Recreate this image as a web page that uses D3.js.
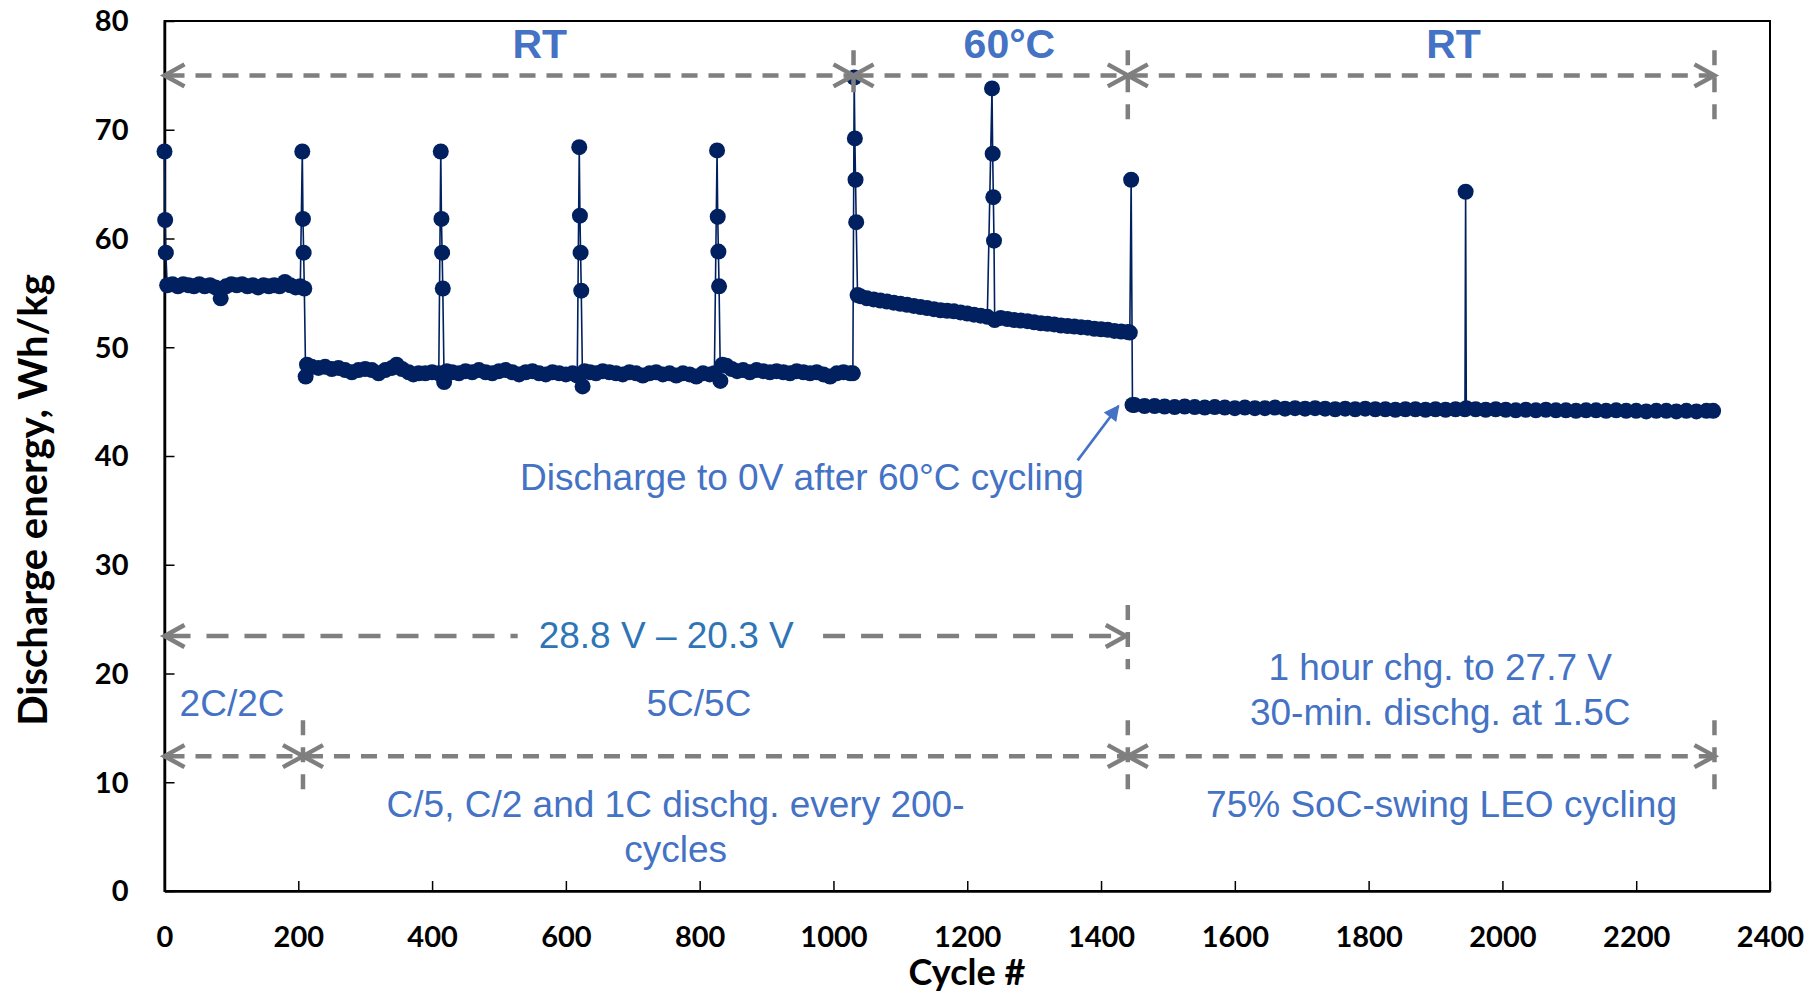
<!DOCTYPE html>
<html>
<head>
<meta charset="utf-8">
<script src="https://cdn.jsdelivr.net/npm/d3@7/dist/d3.min.js"></script>
<style>
    body { margin: 0; background: #fff; }
    .axis text { font-family: Lato, "Open Sans", sans-serif; font-weight: 700; font-size: 29px; fill: #000; }
    .axis path, .axis line { stroke: #000; }
    .axis-title { font-family: Lato, "Open Sans", sans-serif; font-weight: 700; fill: #000; }
    .note { font-family: "Liberation Sans", Arial, sans-serif; font-size: 37px; fill: #4472C4; }
    .phase { font-family: "Liberation Sans", Arial, sans-serif; font-weight: 700; font-size: 41px; fill: #4472C4; }
</style>
</head>
<body>
<div id="chart"></div>
<script>
// ---- data: [cycle, discharge energy Wh/kg] ----
const seg2C = [[0,68.0],[1,61.7],[2,58.7],[4,55.7],[12,55.8],[20,55.6],[28,55.8],[36,55.7],[44,55.6],
    [52,55.8],[60,55.6],[68,55.7],[76,55.5],[84,54.5],[92,55.6],[100,55.8],[108,55.7],[116,55.8],
    [124,55.6],[132,55.7],[140,55.5],[148,55.7],[156,55.6],[164,55.7],[172,55.6],[180,56.0],
    [188,55.7],[196,55.5],[203,55.6]];

const seg5C = [[206,68.0],[207,61.8],[208,58.7],[209,55.4],[211,47.3],[213,48.4],[220,48.2],[230,48.1],
    [240,48.2],[250,48.0],[260,48.1],[270,47.9],[280,47.7],[290,47.9],[300,48.0],[310,47.9],[320,47.6],
    [330,47.9],[340,48.1],[347,48.4],[355,48.0],[365,47.7],[372,47.5],[380,47.6],[390,47.6],[400,47.7],
    [410,47.6],[413,68.0],[414,61.8],[415,58.7],[416,55.4],[418,46.8],[422,47.8],[430,47.7],[440,47.6],
    [450,47.8],[460,47.7],[470,47.9],[480,47.7],[490,47.6],[500,47.8],[510,47.9],[520,47.7],[530,47.5],
    [540,47.7],[550,47.8],[560,47.6],[570,47.5],[580,47.7],[590,47.6],[600,47.5],[610,47.6],[617,47.4],
    [620,68.4],[621,62.1],[622,58.7],[623,55.2],[625,46.4],[628,47.8],[636,47.7],[645,47.6],[655,47.8],
    [665,47.7],[675,47.6],[685,47.5],[695,47.7],[705,47.6],[715,47.4],[725,47.6],[735,47.7],[745,47.5],
    [755,47.6],[765,47.4],[775,47.6],[785,47.5],[795,47.3],[805,47.6],[815,47.5],[822,47.6],
    [826,68.1],[827,62.0],[828,58.8],[829,55.6],[831,46.9],[834,48.4],[840,48.3],[848,48.0],[856,47.8],
    [865,47.9],[875,47.7],[885,47.9],[895,47.8],[905,47.7],[915,47.8],[925,47.7],[935,47.6],[945,47.8],
    [955,47.7],[965,47.6],[975,47.7],[985,47.5],[995,47.3],[1005,47.6],[1015,47.7],[1025,47.6],[1029,47.6]];

const seg60C = [[1031,74.8],[1032,69.2],[1033,65.4],[1034,61.5],[1036,54.8],[1040,54.7],[1050,54.5],
    [1060,54.4],[1070,54.3],[1080,54.2],[1090,54.1],[1100,54.0],[1110,53.9],[1120,53.8],[1130,53.7],
    [1140,53.6],[1150,53.5],[1160,53.4],[1170,53.35],[1180,53.3],[1190,53.2],[1200,53.1],[1210,53.0],
    [1220,52.9],[1230,52.8],[1237,73.8],[1238,67.8],[1239,63.8],[1240,59.8],[1241,52.5],[1250,52.7],
    [1260,52.6],[1270,52.5],[1280,52.45],[1290,52.4],[1300,52.3],[1310,52.2],[1320,52.15],[1330,52.1],
    [1340,52.0],[1350,51.95],[1360,51.9],[1370,51.85],[1380,51.8],[1390,51.7],[1400,51.65],[1410,51.6],
    [1420,51.5],[1430,51.45],[1440,51.4],[1443,51.35]];

const segLEO = [[1445,65.4],[1447,44.7],[1450,44.7],[1465,44.6],[1480,44.6],[1495,44.55],[1510,44.5],
    [1525,44.55],[1540,44.5],[1555,44.45],[1570,44.5],[1585,44.45],[1600,44.4],[1615,44.45],[1630,44.4],
    [1645,44.4],[1660,44.45],[1675,44.35],[1690,44.4],[1705,44.35],[1720,44.4],[1735,44.35],[1750,44.3],
    [1765,44.35],[1780,44.3],[1795,44.35],[1810,44.3],[1825,44.3],[1840,44.25],[1855,44.3],[1870,44.3],
    [1885,44.25],[1900,44.3],[1915,44.25],[1930,44.3],[1944,44.3],[1945,64.3],[1946,44.4],[1960,44.3],
    [1975,44.25],[1990,44.3],[2005,44.25],[2020,44.2],[2035,44.25],[2050,44.2],[2065,44.25],[2080,44.2],
    [2095,44.2],[2110,44.15],[2125,44.2],[2140,44.2],[2155,44.15],[2170,44.2],[2185,44.15],[2200,44.15],
    [2215,44.1],[2230,44.15],[2245,44.15],[2260,44.1],[2275,44.15],[2290,44.1],[2305,44.15],[2315,44.15]];

const xTicks = [0, 200, 400, 600, 800, 1000, 1200, 1400, 1600, 1800, 2000, 2200, 2400];
const yTicks = [0, 10, 20, 30, 40, 50, 60, 70, 80];

// phase arrows: [from cycle, to cycle]
const topArrows = [[0, 1030], [1030, 1440], [1440, 2317]];
const lowArrows = [[0, 207], [207, 1440], [1440, 2317]];
// vertical dashed dividers: [cycle, from value, to value]
const dividers = [[1030, 77.3, 72.9], [1440, 77.3, 70.7], [2317, 77.3, 70.7],
    [1440, 26.3, 20.4], [207, 15.7, 9.1], [1440, 15.7, 8.7], [2317, 15.7, 8.7]];


class EnergyChart {
    constructor(parentElement) {
        this.parentElement = parentElement;
        this.initVis();
    }

    initVis() {
        let vis = this;

        vis.margin = {top: 21, right: 38, bottom: 103, left: 164.5};
        vis.width = 1808 - vis.margin.left - vis.margin.right;
        vis.height = 994 - vis.margin.top - vis.margin.bottom;

        vis.svgRoot = d3.select("#" + vis.parentElement).append("svg")
            .attr("width", 1808)
            .attr("height", 994);
        vis.svg = vis.svgRoot.append("g")
            .attr("transform", "translate(" + vis.margin.left + "," + vis.margin.top + ")");

        vis.x = d3.scaleLinear().domain([0, 2400]).range([0, vis.width]);
        vis.y = d3.scaleLinear().domain([0, 80]).range([vis.height, 0]);

        // frame
        vis.svg.append("rect")
            .attr("width", vis.width)
            .attr("height", vis.height)
            .attr("fill", "none")
            .attr("stroke", "#000")
            .attr("stroke-width", 2);

        vis.xAxis = d3.axisBottom(vis.x).tickValues(xTicks).tickFormat(d3.format("d"))
            .tickSizeInner(-10).tickSizeOuter(0).tickPadding(35);
        vis.yAxis = d3.axisLeft(vis.y).tickValues(yTicks).tickFormat(d3.format("d"))
            .tickSizeInner(-10).tickSizeOuter(0).tickPadding(36);

        let gx = vis.svg.append("g")
            .attr("class", "axis x-axis")
            .attr("transform", "translate(0," + vis.height + ")")
            .call(vis.xAxis);
        let gy = vis.svg.append("g")
            .attr("class", "axis y-axis")
            .call(vis.yAxis);
        vis.svg.selectAll(".axis .domain").attr("stroke-width", 2.5);
        vis.svg.selectAll(".axis .tick line").attr("stroke-width", 1.5);
        gx.selectAll("text").attr("dy", "0.71em");
        gy.selectAll("text").attr("dy", "0.34em");

        // axis titles
        vis.svgRoot.append("text")
            .attr("class", "axis-title")
            .attr("x", 967)
            .attr("y", 985)
            .attr("text-anchor", "middle")
            .style("font-size", "36px")
            .text("Cycle #");
        vis.svgRoot.append("text")
            .attr("class", "axis-title")
            .attr("transform", "translate(47,500) rotate(-90)")
            .attr("text-anchor", "middle")
            .style("font-size", "40px")
            .text("Discharge energy, Wh/kg");

        vis.wrangleData();
    }

    wrangleData() {
        let vis = this;
        vis.displayData = seg2C.concat(seg5C, seg60C, segLEO);
        vis.updateVis();
    }

    updateVis() {
        let vis = this;
        let navy = "#002060";

        let line = d3.line()
            .x(d => vis.x(d[0]))
            .y(d => vis.y(d[1]));

        vis.svg.append("path")
            .datum(vis.displayData)
            .attr("fill", "none")
            .attr("stroke", navy)
            .attr("stroke-width", 1.6)
            .attr("d", line);

        vis.svg.append("g").selectAll("circle")
            .data(vis.displayData)
            .join("circle")
            .attr("cx", d => vis.x(d[0]))
            .attr("cy", d => vis.y(d[1]))
            .attr("r", 8)
            .attr("fill", navy);

        // gray dashed annotation arrows
        let ann = vis.svg.append("g").attr("class", "annotations");
        let gray = "#7F7F7F";

        let hLine = (x0, x1, yy, dash) => ann.append("line")
            .attr("x1", x0).attr("x2", x1).attr("y1", yy).attr("y2", yy)
            .attr("stroke", gray).attr("stroke-width", 4.5)
            .attr("stroke-dasharray", dash);
        let chevron = (xt, yy, dir) => ann.append("polyline")
            .attr("points", [[xt - dir * 20, yy - 11], [xt, yy], [xt - dir * 20, yy + 11]].join(" "))
            .attr("fill", "none").attr("stroke", gray)
            .attr("stroke-width", 4.5).attr("stroke-linejoin", "miter");

        let dblArrow = (c0, c1, v) => {
            let x0 = vis.x(c0), x1 = vis.x(c1), yy = vis.y(v);
            hLine(x0 + 4, x1 - 4, yy, "16,11");
            chevron(x0, yy, -1);
            chevron(x1, yy, 1);
        };
        topArrows.forEach(a => dblArrow(a[0], a[1], 75));
        lowArrows.forEach(a => dblArrow(a[0], a[1], 12.4));

        dividers.forEach(d => ann.append("line")
            .attr("x1", vis.x(d[0])).attr("x2", vis.x(d[0]))
            .attr("y1", vis.y(d[1])).attr("y2", vis.y(d[2]))
            .attr("stroke", gray).attr("stroke-width", 4.5)
            .attr("stroke-dasharray", "15,12"));

        // voltage window arrow, split around its label
        let vText = ann.append("text")
            .attr("class", "note")
            .attr("x", vis.x(750)).attr("y", vis.y(22.3))
            .attr("text-anchor", "middle")
            .style("fill", "#2E75B6")
            .text("28.8 V \u2013 20.3 V");
        let bb = vText.node().getBBox();
        let ym = vis.y(23.45);
        hLine(vis.x(0) + 4, bb.x - 21, ym, "22,16");
        chevron(vis.x(0), ym, -1);
        hLine(bb.x + bb.width + 29, vis.x(1437) - 4, ym, "22,16");
        chevron(vis.x(1437), ym, 1);

        // phase labels
        [["RT", 561], ["60\u00B0C", 1263], ["RT", 1927]].forEach(p => ann.append("text")
            .attr("class", "phase")
            .attr("x", vis.x(p[1])).attr("y", vis.y(76.6))
            .attr("text-anchor", "middle")
            .text(p[0]));

        // blue notes
        let notes = [
            ["2C/2C", 101, 16.1],
            ["5C/5C", 799, 16.1],
            ["C/5, C/2 and 1C dischg. every 200-", 764, 6.83],
            ["cycles", 764, 2.68],
            ["1 hour chg. to 27.7 V", 1907, 19.4],
            ["30-min. dischg. at 1.5C", 1907, 15.26],
            ["75% SoC-swing LEO cycling", 1909, 6.83],
            ["Discharge to 0V after 60\u00B0C cycling", 953, 36.9]
        ];
        notes.forEach(n => ann.append("text")
            .attr("class", "note")
            .attr("x", vis.x(n[1])).attr("y", vis.y(n[2]))
            .attr("text-anchor", "middle")
            .text(n[0]));

        // pointer to the 0 V discharge point
        vis.svgRoot.append("defs").append("marker")
            .attr("id", "tri")
            .attr("viewBox", "0 0 10 10")
            .attr("refX", 9).attr("refY", 5)
            .attr("markerWidth", 7).attr("markerHeight", 6)
            .attr("markerUnits", "strokeWidth")
            .attr("orient", "auto")
            .append("path")
            .attr("d", "M0,0 L10,5 L0,10 Z")
            .attr("fill", "#4472C4");
        ann.append("line")
            .attr("x1", vis.x(1365)).attr("y1", vis.y(39.6))
            .attr("x2", vis.x(1426)).attr("y2", vis.y(44.6))
            .attr("stroke", "#4472C4").attr("stroke-width", 2.6)
            .attr("marker-end", "url(#tri)");
    }
}

new EnergyChart("chart");
</script>
</body>
</html>
